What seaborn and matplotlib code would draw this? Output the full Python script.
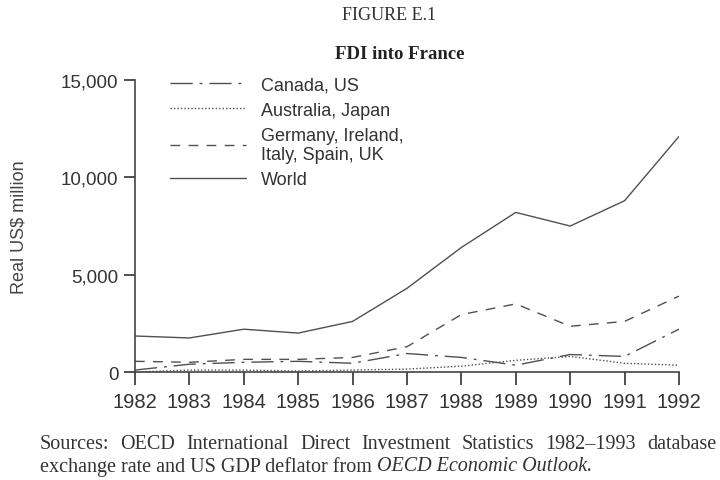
import numpy as np
import pandas as pd
import seaborn as sns
import matplotlib.pyplot as plt

years = list(range(1982, 1993))
canada_us = [100, 400, 500, 550, 450, 950, 750, 350, 900, 800, 2200]
australia_japan = [0, 100, 100, 50, 100, 150, 300, 600, 800, 450, 350]
europe = [550, 500, 650, 650, 750, 1300, 2950, 3500, 2350, 2600, 3900]
world = [1850, 1750, 2200, 2000, 2600, 4300, 6400, 8200, 7500, 8800, 12100]

labels = ["Canada, US", "Australia, Japan", "Germany, Ireland,\nItaly, Spain, UK", "World"]
source_line1 = "Sources: OECD International Direct Investment Statistics 1982\u20131993 database"

df = pd.DataFrame({
    "year": years * 4,
    "value": canada_us + australia_japan + europe + world,
    "series": [lab for lab in labels for _ in years],
})

sns.set_style("white")
plt.rcParams['font.family'] = ['Liberation Sans', 'DejaVu Sans']

fig = plt.figure(figsize=(7.2, 4.81), dpi=100)
ax = fig.add_axes([0.1875, 0.2245, 0.7555, 0.607])

grey = "#505050"
dashes = [(16, 5, 2, 5), (1, 1.5), (7, 6), ""]
sns.lineplot(data=df, x="year", y="value", hue="series", style="series",
             palette=[grey] * 4, dashes=dashes, linewidth=1.0, ax=ax)

ax.set_xlim(1982, 1992)
ax.set_ylim(0, 15000)
ax.set_xticks(years)
ax.set_yticks([0, 5000, 10000, 15000])
ax.set_yticklabels(["0", "5,000", "10,000", "15,000"])
ax.set_xlabel("")
ax.set_ylabel("Real US$ million", fontsize=13, color="#444444", labelpad=24)
ax.tick_params(axis="both", bottom=True, left=True, labelsize=13.5, colors="#333333",
               width=1.2, direction="out")
ax.tick_params(axis="x", labelsize=14.5, length=9.5, pad=5)
ax.tick_params(axis="y", length=8, pad=4)
for s in ["top", "right"]:
    ax.spines[s].set_visible(False)
for s in ["left", "bottom"]:
    ax.spines[s].set_color("#444444")
    ax.spines[s].set_linewidth(1.2)

leg = ax.legend(loc="upper left", bbox_to_anchor=(0.035, 1.068), frameon=False,
                fontsize=13, handlelength=4.2, handletextpad=0.8,
                labelspacing=0.45, title=None)
for t in leg.get_texts():
    t.set_color("#333333")

fig.text(0.54, 0.967, "FIGURE E.1", ha="center", va="center",
         family="Liberation Serif", fontsize=13, color="#333333")
fig.text(0.555, 0.886, "FDI into France", ha="center", va="center",
         family="Liberation Serif", fontsize=13.5, weight="bold", color="#222222")

# justified first source line
fs = 14.5
fig.canvas.draw()
renderer = fig.canvas.get_renderer()
words = source_line1.split(" ")
widths = []
for w in words:
    t = fig.text(0, 0, w, family="Liberation Serif", fontsize=fs)
    widths.append(t.get_window_extent(renderer).width)
    t.remove()
x0, x1 = 40, 716
gap = (x1 - x0 - sum(widths)) / (len(words) - 1)
x = x0
for w, wd in zip(words, widths):
    fig.text(x / 720, 0.075, w, ha="left", va="center", family="Liberation Serif",
             fontsize=fs, color="#333333")
    x += wd + gap

t2 = fig.text(40 / 720, 0.03, "exchange rate and US GDP deflator from ",
              ha="left", va="center", family="Liberation Serif", fontsize=fs, color="#333333")
xe = t2.get_window_extent(renderer).x1
fig.text(xe / 720, 0.03, "OECD Economic Outlook.",
         ha="left", va="center", family="Liberation Serif", fontsize=fs,
         style="italic", color="#333333")

fig.savefig("out.png", dpi=100, facecolor="white")
